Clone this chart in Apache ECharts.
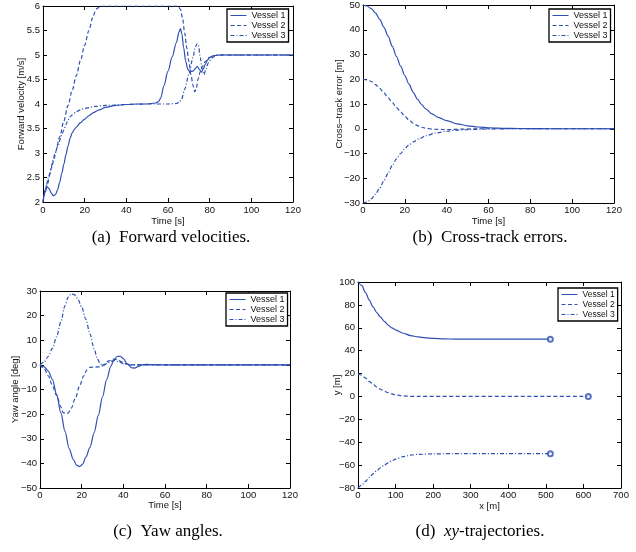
<!DOCTYPE html>
<html>
<head>
<meta charset="utf-8">
<script src="https://cdn.jsdelivr.net/npm/echarts@6/dist/echarts.min.js"></script>
<style>
html, body { margin: 0; padding: 0; background: #fff; }
#main { width: 636px; height: 552px; }
</style>
</head>
<body>
<div id="main"></div>
<script>
// (a) forward velocity [t s, u m/s]
const velV1 = [[0,2.0],[1,2.2],[2,2.31],[3,2.27],[4,2.18],[5,2.13],[6,2.15],[7,2.25],[8,2.4],[9,2.58],[10,2.77],[11,2.96],[12,3.14],[13,3.3],[14,3.41],[15,3.48],[16,3.53],[18,3.62],[20,3.69],[22,3.76],[24,3.82],[27,3.88],[30,3.93],[35,3.97],[40,3.99],[45,4.0],[50,4.0],[54,4.02],[55.5,4.05],[56.5,4.12],[58,4.37],[60,4.67],[62,4.96],[64,5.25],[65.3,5.47],[66,5.54],[66.7,5.42],[67.5,5.15],[68.5,4.87],[69.5,4.71],[70.5,4.66],[72,4.67],[73,4.72],[74,4.77],[75,4.71],[76,4.65],[77,4.72],[78,4.82],[79,4.9],[80,4.95],[82,4.99],[85,5.0],[120,5.0]];
const velV2 = [[0,2.0],[2,2.35],[4,2.69],[6,3.02],[8,3.33],[10,3.65],[12,3.97],[14,4.28],[16,4.58],[18,4.89],[20,5.2],[22,5.5],[24,5.78],[25,5.88],[26,5.95],[27,5.98],[28,6.0],[64,6.0],[65,5.99],[66,5.93],[67,5.75],[68,5.45],[69,5.15],[70,4.87],[71,4.6],[72,4.38],[72.8,4.25],[73.5,4.3],[74.5,4.52],[75.5,4.66],[76.5,4.77],[78,4.87],[80,4.95],[82,4.99],[85,5.0],[120,5.0]];
const velV3 = [[0,2.0],[1,2.25],[3,2.55],[5,2.86],[7,3.13],[9,3.37],[10,3.47],[11,3.58],[12,3.67],[13,3.74],[14,3.78],[16,3.84],[18,3.88],[20,3.91],[25,3.95],[30,3.97],[40,3.99],[50,4.0],[60,4.0],[64,4.01],[65.5,4.04],[66.5,4.1],[68,4.3],[70,4.6],[72,4.95],[73,5.15],[74,5.23],[74.6,5.2],[75.5,4.95],[76.3,4.72],[77.3,4.6],[78.2,4.72],[79.5,4.85],[81,4.94],[83,4.99],[86,5.0],[120,5.0]];

// (b) cross-track error [t s, e m]
const cteV1 = [[0,50],[2,49.6],[4,48.5],[6,46.7],[8,44.2],[10,41],[12,37.4],[14,33.3],[16,29.2],[18,25.3],[20,21.5],[22,18],[24,14.7],[26,12],[28,9.8],[30,8],[33,6],[36,4.6],[40,3.3],[45,2.0],[50,1.2],[55,0.7],[60,0.4],[70,0.15],[80,0.05],[90,0],[120,0]];
const cteV2 = [[0,20],[2,19.7],[4,19.1],[6,17.8],[8,16.3],[10,14.5],[12,12.5],[14,10.6],[16,8.6],[18,6.8],[20,5],[22,3.5],[24,2.2],[26,1.3],[28,0.6],[30,0.2],[34,-0.2],[38,-0.3],[42,-0.3],[48,-0.15],[55,0],[120,0]];
const cteV3 = [[0,-30],[2,-29.6],[4,-28.3],[6,-26.4],[8,-24],[10,-21],[12,-18],[14,-14.8],[16,-12.2],[18,-10],[20,-8],[22,-6.5],[24,-5.3],[27,-4],[30,-2.8],[35,-1.7],[40,-1],[45,-0.6],[50,-0.35],[60,-0.1],[70,0],[120,0]];

// (c) yaw angle [t s, psi deg]
const yawV1 = [[0,0],[2,-0.8],[4,-2.5],[6,-6],[8,-12],[10,-19.5],[12,-27],[14,-34],[16,-38.5],[17.5,-40.7],[19,-41.3],[20.5,-40.3],[22,-37.5],[24,-33.5],[26,-27.5],[28,-20.5],[30,-13],[32,-6],[34,-0.5],[35.5,2],[37,3.4],[38.5,3.5],[40,2.5],[42,0.3],[44,-1.2],[45.5,-1.3],[47,-0.7],[49,0],[51,0.2],[55,0.1],[60,0],[120,0]];
const yawV2 = [[0,0],[2,-1.5],[4,-4.5],[6,-8.5],[8,-12.5],[10,-17],[11,-19.3],[12.5,-19.8],[13.5,-19.6],[15,-17.6],[17,-13.5],[19,-8.5],[21,-4.5],[22.5,-2],[24,-1],[26,-0.9],[29,-0.8],[31,0.3],[33,1.6],[35,2.3],[37,2.2],[39,1.3],[41,0.5],[44,0],[120,0]];
const yawV3 = [[0,0],[2,1.2],[4,3.5],[6,6.8],[8,11.5],[10,17.5],[12,24],[13.5,27.5],[15,28.9],[16.5,28.5],[18,27],[20,23.5],[22,18.5],[24,12.5],[26,6.5],[27.5,2.5],[29,0.3],[30.5,-0.3],[32,0.5],[34,1.5],[36,1.8],[38,1.2],[40,0.5],[43,0],[120,0]];

// (d) xy-trajectories [x m, y m]
const trajV1 = [[0,100],[10,97],[20,90.8],[30,84.2],[40,78.2],[50,73.3],[60,69.3],[70,65.6],[80,62.4],[90,60],[100,58.2],[120,55.2],[140,53.2],[160,52],[180,51.2],[200,50.7],[230,50.3],[260,50.1],[300,50],[512,50]];
const trajV2 = [[0,20],[10,18.5],[20,16],[30,13.2],[40,10.7],[50,8.3],[60,6.3],[70,4.6],[80,3.3],[90,2.2],[100,1.4],[120,0.5],[140,0.1],[160,0],[613,0]];
const trajV3 = [[0,-80],[10,-77.5],[20,-74.2],[30,-70.8],[40,-67.6],[50,-64.8],[60,-62.2],[70,-60],[80,-58],[90,-56.3],[100,-54.8],[120,-52.6],[140,-51.2],[160,-50.6],[200,-50.2],[250,-50],[512,-50]];

const vesselNames = ['Vessel 1', 'Vessel 2', 'Vessel 3'];
const captions = ['(a)\u2002Forward velocities.', '(b)\u2002Cross-track errors.', '(c)\u2002Yaw angles.', '(d)\u2002{i|xy}-trajectories.'];

const blue = '#2e4fb3';
const sans = '"Liberation Sans", Arial, sans-serif';
const dashes = ['solid', [4, 2.5], [4, 2, 1, 2]];
const minus = v => String(v).replace('-', '\u2212');

var myChart = echarts.init(document.getElementById('main'));

const grids = [
  { left: 43, top: 6, width: 250, height: 196 },
  { left: 363, top: 5, width: 251, height: 198 },
  { left: 40, top: 291, width: 250, height: 197 },
  { left: 358, top: 282, width: 263, height: 206 }
];

function axisBase(gi, min, max, step) {
  return {
    gridIndex: gi, type: 'value', min: min, max: max, interval: step,
    axisLine: { onZero: false, lineStyle: { color: '#000', width: 1 } },
    axisTick: { inside: true, length: 4, lineStyle: { color: '#000' } },
    splitLine: { show: false }
  };
}
const nameStyle = { fontSize: 9.5, color: '#111', fontFamily: sans };
function labelStyle(margin) {
  return { margin: margin, fontSize: 9.5, color: '#111', fontFamily: sans, formatter: minus };
}

function xPair(gi, min, max, step, name, gap, margin) {
  return [
    Object.assign(axisBase(gi, min, max, step), { position: 'bottom', name: name, nameLocation: 'middle', nameGap: gap, nameMoveOverlap: false, nameTextStyle: nameStyle, axisLabel: labelStyle(margin) }),
    Object.assign(axisBase(gi, min, max, step), { position: 'top', axisLabel: { show: false } })
  ];
}
function yPair(gi, min, max, step, name, gap) {
  return [
    Object.assign(axisBase(gi, min, max, step), { position: 'left', name: name, nameLocation: 'middle', nameGap: gap, nameMoveOverlap: false, nameTextStyle: nameStyle, axisLabel: labelStyle(3) }),
    Object.assign(axisBase(gi, min, max, step), { position: 'right', axisLabel: { show: false } })
  ];
}

const xAxis = [].concat(
  xPair(0, 0, 120, 20, 'Time [s]', 14.5, 3),
  xPair(1, 0, 120, 20, 'Time [s]', 13.5, 2.5),
  xPair(2, 0, 120, 20, 'Time [s]', 12.5, 2),
  xPair(3, 0, 700, 100, 'x [m]', 13.5, 2.5)
);
const yAxis = [].concat(
  yPair(0, 2, 6, 0.5, 'Forward velocity [m/s]', 17),
  yPair(1, -30, 50, 10, 'Cross\u2013track error [m]', 19),
  yPair(2, -50, 30, 10, 'Yaw angle [deg]', 20),
  yPair(3, -80, 100, 20, 'y [m]', 16)
);

function line(gi, k, data) {
  return {
    name: vesselNames[k], type: 'line', xAxisIndex: gi * 2, yAxisIndex: gi * 2,
    data: data, symbol: 'none', smooth: 0.3, smoothMonotone: 'x',
    lineStyle: { color: blue, width: 1.2, type: dashes[k] },
    itemStyle: { color: blue }, animation: false, z: 2
  };
}

const panels = [[velV1, velV2, velV3], [cteV1, cteV2, cteV3], [yawV1, yawV2, yawV3], [trajV1, trajV2, trajV3]];
const series = [];
panels.forEach((p, gi) => p.forEach((d, k) => series.push(line(gi, k, d))));
// end points of trajectories
series.push({
  type: 'scatter', xAxisIndex: 6, yAxisIndex: 6,
  data: [trajV1, trajV2, trajV3].map(d => d[d.length - 1]),
  symbol: 'emptyCircle', symbolSize: 5,
  itemStyle: { color: blue, borderColor: blue, borderWidth: 1.5 },
  animation: false, z: 3
});

function legendAt(left, top, font, h) {
  return {
    data: vesselNames, orient: 'vertical', left: left, top: top,
    itemWidth: 16, itemHeight: h, itemGap: 1, padding: [2, 3, 2, 3],
    selectedMode: false, backgroundColor: '#fff',
    borderColor: '#000', borderWidth: 1.3, borderRadius: 0,
    itemStyle: { opacity: 0 },
    lineStyle: { width: 1 },
    textStyle: { fontSize: font, color: '#111', fontFamily: sans }
  };
}

const capFont = '17px "Liberation Serif", "Times New Roman", serif';
const capPos = [[171, 238], [490, 238], [168, 532], [480, 532]];
const graphic = captions.map((t, i) => ({
  type: 'text', x: capPos[i][0], y: capPos[i][1],
  style: {
    text: t, font: capFont, fill: '#000', align: 'center', verticalAlign: 'middle',
    rich: { i: { font: 'italic 17px "Liberation Serif", "Times New Roman", serif', fill: '#000' } }
  }
}));

const option = {
  backgroundColor: '#fff',
  animation: false,
  grid: grids,
  xAxis: xAxis,
  yAxis: yAxis,
  legend: [
    legendAt(227, 9, 9, 10),
    legendAt(549, 9, 9, 10),
    legendAt(226, 293, 9, 10),
    legendAt(558, 288, 8.5, 8.7)
  ],
  graphic: graphic,
  series: series
};

myChart.setOption(option);
</script>
</body>
</html>
